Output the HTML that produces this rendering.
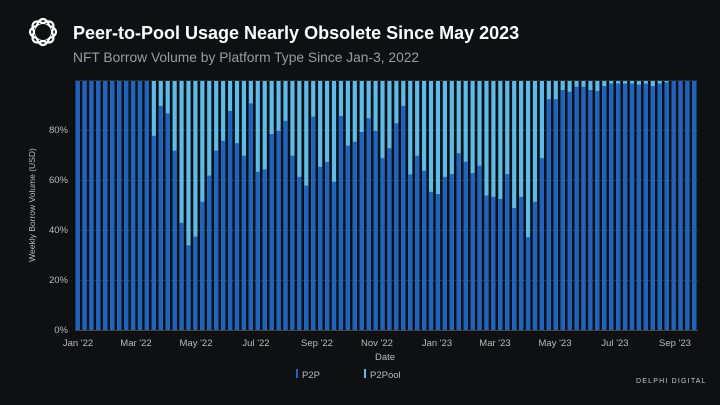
<!DOCTYPE html>
<html><head><meta charset="utf-8"><style>
html,body{margin:0;padding:0;background:#0f1012;width:720px;height:405px;overflow:hidden;font-family:"Liberation Sans",sans-serif}
</style></head><body>
<svg width="720" height="405" viewBox="0 0 720 405" xmlns="http://www.w3.org/2000/svg" font-family="Liberation Sans, sans-serif">
<rect width="720" height="405" fill="#0f1012"/>
<g fill="none" stroke="#fff" stroke-width="2.2">
<ellipse cx="43" cy="32" rx="7" ry="13" transform="rotate(0 43 32)" />
<ellipse cx="43" cy="32" rx="7" ry="13" transform="rotate(45 43 32)" />
<ellipse cx="43" cy="32" rx="7" ry="13" transform="rotate(90 43 32)" />
<ellipse cx="43" cy="32" rx="7" ry="13" transform="rotate(135 43 32)" />
</g>
<circle cx="43" cy="32" r="8" fill="#0f1012"/>
<text x="73" y="39" fill="#fff" font-size="18" font-weight="bold">Peer-to-Pool Usage Nearly Obsolete Since May 2023</text>
<text x="73" y="62" fill="#9a9ca0" font-size="13.8">NFT Borrow Volume by Platform Type Since Jan-3, 2022</text>
<g id="grid" stroke="#2a2c30" stroke-width="1">
<line x1="75" x2="698" y1="80.5" y2="80.5"/>
<line x1="75" x2="698" y1="130.5" y2="130.5"/>
<line x1="75" x2="698" y1="180.5" y2="180.5"/>
<line x1="75" x2="698" y1="230.5" y2="230.5"/>
<line x1="75" x2="698" y1="280.5" y2="280.5"/>
</g>
<g id="bars"></g>
<line x1="75" x2="698" y1="330.5" y2="330.5" stroke="#444" />
<g fill="#b8babd" font-size="9.5" text-anchor="end">
<text x="68" y="133">80%</text><text x="68" y="183">60%</text><text x="68" y="233">40%</text><text x="68" y="283">20%</text><text x="68" y="333">0%</text>
</g>
<text transform="translate(35 205) rotate(-90)" fill="#b8babd" font-size="8.5" text-anchor="middle">Weekly Borrow Volume (USD)</text>
<g fill="#b8babd" font-size="9.5" text-anchor="middle">
<text x="78" y="346">Jan '22</text><text x="136" y="346">Mar '22</text><text x="196" y="346">May '22</text><text x="256" y="346">Jul '22</text><text x="317" y="346">Sep '22</text><text x="377" y="346">Nov '22</text><text x="437" y="346">Jan '23</text><text x="495" y="346">Mar '23</text><text x="555" y="346">May '23</text><text x="615" y="346">Jul '23</text><text x="675" y="346">Sep '23</text>
</g>
<text x="385" y="360" fill="#b8babd" font-size="9.5" text-anchor="middle">Date</text>
<rect x="296" y="369" width="2" height="9" fill="#1f63c0"/>
<text x="302" y="378" fill="#b8babd" font-size="9.5">P2P</text>
<rect x="364" y="369" width="2" height="9" fill="#5cbbe8"/>
<text x="370" y="378" fill="#b8babd" font-size="9.5">P2Pool</text>
<text x="636" y="383" fill="#c8c8c8" font-size="7" letter-spacing="1.2">DELPHI DIGITAL</text>
</svg>
<script>
var v=[100,100,100,100,100,100,100,100,100,100,100,78,90,87,72,43,34,37.5,51.5,62,72,76,88,75,70,91,63.5,64.5,78.7,80,84,70,61.5,58,85.7,65.5,67.5,59.5,86,74,75.6,79.5,85,80,69,73,83,90,62.5,70,64,55.5,54.6,61.5,62.6,71,67.6,63,66,54,53.5,52.6,62.6,49,53.5,37.3,51.5,69,92.7,92.7,96.4,95.7,97.7,97.7,96.4,96,98,99,99,99,99,98.5,99,98,99,99.5,100,100,100,100];
var g=document.getElementById('bars'),s='';
for(var i=0;i<v.length;i++){var x=75.5+i*6.93,h=v[i]*2.49,y=330-h;
s+='<rect x="'+x.toFixed(2)+'" y="81" width="4.2" height="249" fill="#5cbbe8"/>';
s+='<rect x="'+x.toFixed(2)+'" y="'+y.toFixed(1)+'" width="4.2" height="'+h.toFixed(1)+'" fill="#1f63c0"/>';}
g.innerHTML=s;
</script>
</body></html>
